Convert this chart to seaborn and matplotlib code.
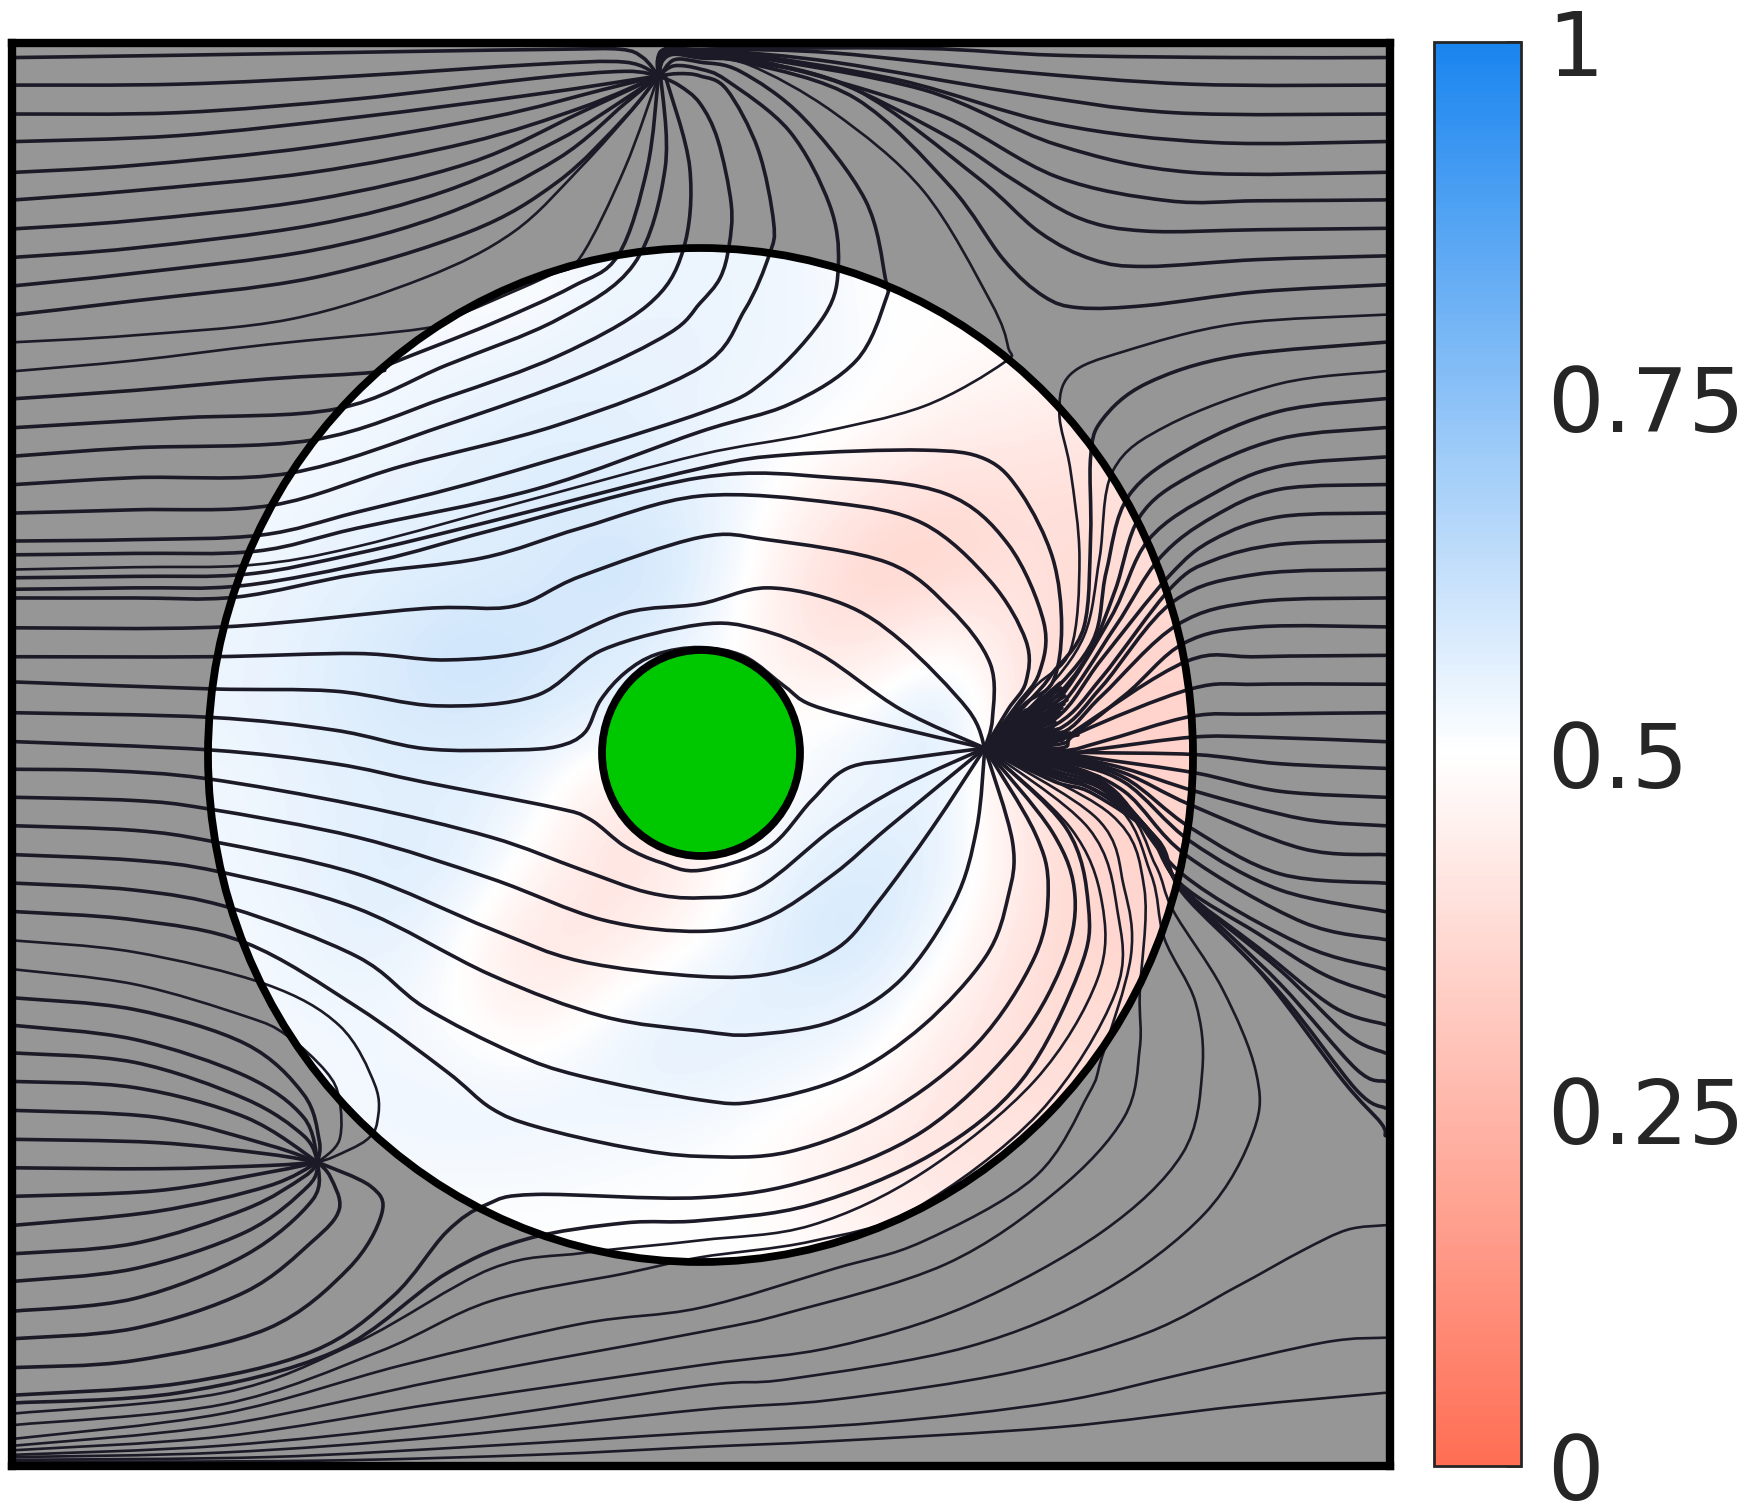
"""Streamlines over a field in a circular region, with a diverging colour bar."""
import numpy as np
import seaborn as sns
from matplotlib import pyplot as plt
from matplotlib.colors import LinearSegmentedColormap
from matplotlib.patches import Ellipse, PathPatch
from matplotlib.path import Path

CBAR_TICKS = [0, 0.25, 0.5, 0.75, 1]
CBAR_TICK_LABELS = ["0", "0.25", "0.5", "0.75", "1"]

FIELD = [
    [.50, .50, .50, .50, .50, .53, .54, .54, .53, .50, .50, .50, .50, .50],
    [.52, .52, .52, .53, .54, .55, .55, .54, .53, .51, .49, .48, .46, .46],
    [.52, .52, .53, .55, .56, .56, .55, .53, .52, .49, .45, .44, .42, .42],
    [.52, .53, .55, .56, .57, .58, .57, .54, .46, .41, .38, .39, .39, .39],
    [.53, .55, .56, .57, .58, .60, .60, .52, .41, .35, .36, .41, .38, .38],
    [.54, .56, .58, .61, .60, .58, .56, .50, .41, .42, .50, .42, .36, .36],
    [.54, .56, .58, .59, .58, .56, .54, .49, .50, .53, .61, .41, .35, .35],
    [.53, .55, .56, .56, .54, .44, .41, .49, .52, .55, .55, .42, .35, .35],
    [.53, .55, .57, .57, .50, .41, .42, .50, .56, .58, .56, .44, .36, .36],
    [.52, .54, .56, .52, .41, .41, .46, .53, .59, .59, .52, .41, .36, .36],
    [.52, .53, .53, .50, .44, .50, .56, .56, .56, .54, .46, .39, .38, .38],
    [.52, .52, .53, .53, .53, .54, .55, .54, .52, .49, .41, .39, .39, .39],
    [.52, .52, .53, .53, .53, .52, .51, .50, .46, .42, .41, .41, .41, .41],
    [.50, .50, .50, .50, .50, .50, .50, .50, .49, .46, .44, .42, .42, .42],
]

# streamlines traced per quadrant, in the units of each quadrant's crop
TOP_LEFT = [
    [(33, 60), (400, 55), (900, 47), (1250, 42), (1390, 42), (1440, 60), (1475, 100)],
    [(33, 120), (400, 118), (800, 100), (1200, 75), (1400, 70), (1475, 100)],
    [(33, 183), (400, 180), (800, 150), (1200, 105), (1400, 90), (1475, 100)],
    [(33, 243), (400, 230), (800, 190), (1200, 140), (1475, 100)],
    [(33, 310), (300, 295), (700, 255), (1100, 190), (1350, 130), (1475, 100)],
    [(33, 370), (300, 350), (700, 310), (1050, 245), (1300, 170), (1475, 100)],
    [(33, 433), (300, 415), (700, 370), (1050, 290), (1300, 180), (1475, 100)],
    [(33, 495), (300, 475), (700, 425), (1000, 350), (1250, 240), (1400, 150), (1475, 100)],
    [(33, 557), (300, 530), (700, 480), (1000, 400), (1250, 280), (1400, 160), (1475, 100)],
    [(33, 620), (300, 590), (700, 540), (1050, 440), (1250, 330), (1400, 190), (1475, 100)],
    [(33, 803), (300, 785), (600, 760), (840, 745), (880, 725), (1100, 640), (1280, 560), (1385, 490), (1450, 300), (1475, 100)],
    [(33, 866), (400, 845), (755, 825), (1000, 730), (1250, 630), (1420, 510), (1490, 300), (1480, 100)],
    [(33, 928), (300, 910), (700, 893), (1000, 800), (1250, 710), (1450, 600), (1530, 480), (1545, 300), (1490, 100)],
    [(33, 990), (300, 975), (650, 965), (1000, 860), (1300, 755), (1500, 660), (1568, 595)],
    [(33, 1052), (300, 1045), (610, 1035), (900, 950), (1250, 860), (1568, 735)],
    [(33, 1113), (300, 1110), (585, 1100), (800, 1050), (1100, 975), (1568, 835)],
    [(33, 1143), (300, 1140), (575, 1135), (800, 1085), (1200, 1000), (1568, 875)],
    [(33, 1193), (300, 1190), (555, 1185), (800, 1140), (1100, 1070), (1568, 955)],
    [(33, 1218), (300, 1215), (545, 1210), (850, 1155), (1100, 1090), (1568, 975)],
    [(33, 1237), (300, 1237), (530, 1235), (800, 1185), (1080, 1150), (1300, 1085), (1568, 1015)],
    [(33, 1302), (500, 1300), (950, 1260), (1150, 1255), (1300, 1190), (1568, 1105)],
    [(33, 1365), (470, 1365), (800, 1358), (1000, 1372), (1200, 1350), (1400, 1270), (1568, 1250)],
    [(33, 1420), (470, 1435), (750, 1440), (980, 1472), (1200, 1450), (1350, 1350), (1568, 1295)],
    [(33, 1487), (470, 1497), (750, 1525), (950, 1565), (1150, 1568), (1250, 1560), (1310, 1530), (1345, 1460), (1400, 1400), (1470, 1360), (1568, 1345)],
    [(33, 1550), (470, 1568)],
    [(1568, 160), (1520, 120), (1475, 100)],
    [(1568, 100), (1520, 95), (1475, 100)],
    [(1568, 85), (1510, 78), (1475, 100)],
    [(1568, 70), (1510, 65), (1478, 100)],
    [(1568, 62), (1510, 54), (1485, 68), (1476, 100)],
    [(1568, 58), (1510, 50), (1484, 64), (1476, 100)],
    [(1568, 56), (1510, 47), (1483, 60), (1476, 100)],
    [(1568, 54), (1510, 44), (1482, 58), (1476, 100)],
    [(1568, 52), (1510, 42), (1480, 55), (1475, 100)],
    [(1568, 50), (1505, 41), (1478, 55), (1475, 100)],
    [(1568, 48), (1500, 41), (1477, 55), (1475, 100)],
    [(1568, 46), (1500, 40), (1476, 58), (1475, 100)],
    [(1568, 44), (1495, 40), (1475, 60), (1475, 100)],
    [(1568, 42), (1490, 42), (1473, 65), (1475, 100)],
]
TOP_LEFT_THIN = [
    [(33, 680), (300, 665), (650, 630), (950, 540), (1150, 440), (1300, 300), (1420, 170), (1475, 100)],
    [(33, 743), (300, 720), (600, 685), (950, 650), (1030, 620), (1230, 535), (1300, 495), (1400, 300), (1475, 100)],
    [(33, 1175), (300, 1170), (565, 1165), (800, 1125), (1200, 1020), (1568, 925)],
]

SINK_TOP = (638, 1564)
TOP_RIGHT = [
    [(0, 595), (45, 540), (65, 470), (70, 380), (40, 240), (0, 160)],
    [(0, 735), (100, 610), (155, 490), (165, 420), (130, 260), (60, 130), (0, 100)],
    [(0, 835), (150, 760), (280, 620), (310, 510), (290, 380), (200, 220), (60, 110), (0, 85)],
    [(0, 875), (200, 815), (350, 720), (415, 590), (415, 540), (370, 370), (230, 190), (90, 90), (0, 70)],
    [(0, 955), (200, 925), (500, 915), (640, 935), (720, 1010), (790, 1150), (810, 1300), (790, 1420), (725, 1470), SINK_TOP],
    [(0, 975), (300, 975), (550, 1010), (690, 1120), (770, 1290), (760, 1400), (710, 1470), SINK_TOP],
    [(0, 1015), (300, 1030), (500, 1075), (650, 1200), (730, 1330), (730, 1420), (690, 1480), SINK_TOP],
    [(0, 1105), (150, 1110), (420, 1160), (560, 1260), (650, 1380), (655, 1500), SINK_TOP],
    [(0, 1250), (150, 1215), (320, 1250), (450, 1330), (600, 1480), SINK_TOP],
    [(0, 1295), (130, 1305), (270, 1360), (450, 1480), SINK_TOP],
    [(0, 1345), (100, 1365), (190, 1430), (250, 1470), (400, 1510), SINK_TOP],
    [(1535, 60), (1200, 60), (800, 55), (500, 40), (110, 40), (0, 42)],
    [(1535, 120), (1100, 118), (700, 90), (300, 50), (60, 42), (0, 44)],
    [(1535, 183), (1060, 180), (700, 135), (300, 70), (60, 46), (0, 46)],
    [(1535, 243), (1150, 245), (800, 205), (450, 110), (100, 52), (0, 48)],
    [(1535, 310), (1100, 310), (800, 250), (500, 130), (100, 56), (0, 50)],
    [(1535, 370), (1250, 372), (1050, 372), (800, 320), (550, 190), (300, 110), (100, 60), (0, 52)],
    [(1535, 432), (1250, 435), (1000, 438), (850, 410), (700, 325), (550, 230), (300, 110), (100, 64), (0, 54)],
    [(1535, 492), (1250, 500), (1000, 515), (880, 500), (760, 440), (620, 320), (350, 130), (110, 68), (0, 56)],
    [(1535, 555), (1250, 570), (1000, 600), (850, 605), (770, 580), (680, 500), (560, 340), (350, 150), (110, 72), (0, 58)],
    [(1535, 680), (1200, 710), (1000, 770), (900, 850), (875, 930), (875, 1100), (860, 1300), (790, 1400), (756, 1442), SINK_TOP],
    [(1535, 803), (1300, 830), (1100, 910), (960, 1015), (910, 1180), (880, 1330), (772, 1459), SINK_TOP],
    [(1535, 866), (1300, 890), (1100, 970), (985, 1060), (930, 1220), (870, 1360), (779, 1469), SINK_TOP],
    [(1535, 930), (1300, 950), (1150, 1010), (1005, 1110), (920, 1280), (785, 1479), SINK_TOP],
    [(1535, 990), (1300, 1000), (1150, 1060), (1030, 1150), (930, 1300), (791, 1489), SINK_TOP],
    [(1535, 1052), (1300, 1060), (1150, 1110), (1050, 1190), (900, 1370), (796, 1500), SINK_TOP],
    [(1535, 1113), (1300, 1120), (1150, 1155), (1055, 1215), (900, 1410), (800, 1511), SINK_TOP],
    [(1535, 1175), (1250, 1185), (1060, 1245), (900, 1430), (803, 1523), SINK_TOP],
    [(1535, 1237), (1250, 1245), (1070, 1295), (900, 1450), (805, 1534), SINK_TOP],
    [(1535, 1300), (1250, 1300), (1085, 1335), (950, 1450), (807, 1546), SINK_TOP],
    [(1535, 1362), (1250, 1365), (1090, 1375), (850, 1520), (808, 1555), SINK_TOP],
    [(1535, 1425), (1250, 1425), (1100, 1435), (850, 1530), (808, 1564), SINK_TOP],
    [(1535, 1487), (1250, 1490), (1100, 1495), (900, 1550), (808, 1570), SINK_TOP],
    [(1535, 1550), (1250, 1540), (1105, 1540), (900, 1565), (808, 1576), SINK_TOP],
]
TOP_RIGHT_THIN = [
    [(0, 925), (250, 880), (500, 820), (680, 725), (690, 690), (650, 590), (500, 350), (300, 180), (110, 76), (0, 62)],
    [(1535, 620), (1200, 640), (950, 700), (830, 750), (805, 835), (830, 960), (850, 1150), (830, 1350), (747, 1434), SINK_TOP],
    [(1535, 743), (1300, 770), (1050, 860), (925, 960), (895, 1150), (860, 1320), (764, 1450), SINK_TOP],
]

SINK_LEFT = (712, 898)
BOTTOM_LEFT = [
    [(470, 0), (750, 30), (950, 70), (1240, 125), (1320, 150), (1400, 210), (1480, 245), (1568, 262)],
    [(33, 42), (240, 45), (460, 62), (800, 120), (1100, 190), (1300, 260), (1450, 310), (1568, 322)],
    [(33, 103), (300, 110), (465, 128), (800, 190), (1100, 280), (1350, 370), (1568, 395)],
    [(33, 165), (300, 175), (480, 200), (800, 270), (1100, 390), (1300, 460), (1568, 493)],
    [(33, 228), (300, 240), (490, 265), (800, 345), (1100, 490), (1350, 580), (1568, 612)],
    [(33, 290), (300, 305), (520, 345), (800, 450), (950, 560), (1150, 660), (1300, 710), (1568, 762)],
    [(33, 352), (300, 370), (550, 420), (800, 560), (1000, 700), (1100, 780), (1200, 820), (1400, 865), (1568, 885)],
    [(33, 540), (300, 565), (550, 640), (680, 750), (715, 850), SINK_LEFT],
    [(33, 600), (300, 630), (550, 710), (680, 800), SINK_LEFT],
    [(33, 660), (300, 680), (550, 760), (680, 840), SINK_LEFT],
    [(33, 722), (300, 735), (550, 800), SINK_LEFT],
    [(33, 785), (350, 800), (600, 860), SINK_LEFT],
    [(33, 848), (350, 855), (600, 880), SINK_LEFT],
    [(33, 910), (350, 912), (600, 905), SINK_LEFT],
    [(33, 972), (350, 960), (600, 920), SINK_LEFT],
    [(33, 1035), (350, 1005), (600, 950), SINK_LEFT],
    [(33, 1097), (300, 1075), (550, 1000), (680, 930), SINK_LEFT],
    [(33, 1157), (300, 1130), (550, 1050), (690, 950), SINK_LEFT],
    [(33, 1222), (300, 1195), (550, 1100), (700, 980), SINK_LEFT],
    [(33, 1282), (300, 1260), (550, 1180), (700, 1070), (760, 1000), (740, 930), SINK_LEFT],
    [(33, 1345), (300, 1330), (600, 1260), (780, 1130), (855, 1010), (830, 950), SINK_LEFT],
    [(33, 1405), (400, 1380), (700, 1310), (880, 1190), (1000, 1050), (1090, 990), (1200, 968), (1568, 975)],
    [(33, 1422), (400, 1400), (750, 1310), (1000, 1140), (1180, 1065), (1400, 1030), (1568, 1025)],
    [(33, 1500), (500, 1445), (900, 1340), (1300, 1250), (1568, 1215)],
    [(33, 1515), (500, 1470), (1000, 1370), (1568, 1268)],
    [(33, 1525), (500, 1495), (1000, 1420), (1568, 1340)],
    [(33, 1535), (500, 1515), (1000, 1465), (1568, 1385)],
    [(33, 1540), (500, 1530), (1000, 1495), (1568, 1437)],
    [(33, 1546), (600, 1540), (1100, 1515), (1568, 1487)],
    [(33, 1550), (700, 1548), (1200, 1535), (1568, 1518)],
]
BOTTOM_LEFT_THIN = [
    [(33, 415), (300, 440), (595, 510), (760, 600), (840, 730), (845, 810), (820, 850), (750, 885), SINK_LEFT],
    [(33, 478), (300, 510), (550, 580), (640, 620), (730, 700), (760, 760), (760, 850), SINK_LEFT],
    [(33, 1445), (500, 1400), (800, 1290), (1100, 1130), (1310, 1095), (1568, 1068)],
    [(33, 1470), (500, 1425), (850, 1310), (1100, 1200), (1400, 1140), (1568, 1105)],
]

SINK_RIGHT = (638, -4)
BOTTOM_RIGHT = [
    [(0, 262), (150, 215), (250, 110), (330, 40), (450, 20), SINK_RIGHT],
    [(0, 322), (130, 300), (300, 170), (450, 80), SINK_RIGHT],
    [(0, 395), (150, 365), (300, 270), (420, 170), SINK_RIGHT],
    [(0, 493), (170, 485), (310, 430), (400, 330), (520, 170), SINK_RIGHT],
    [(0, 612), (120, 620), (300, 590), (450, 500), (570, 330), (620, 170), SINK_RIGHT],
    [(0, 762), (130, 765), (330, 710), (500, 600), (640, 450), (690, 320), (700, 200), SINK_RIGHT],
    [(0, 885), (200, 875), (420, 790), (620, 640), (750, 450), (780, 300), (750, 180), SINK_RIGHT],
    [(0, 975), (250, 935), (500, 830), (700, 650), (810, 470), (840, 320), (790, 180), SINK_RIGHT],
    [(0, 1025), (250, 990), (520, 880), (720, 720), (850, 480), (870, 340), (820, 170), SINK_RIGHT],
    [(0, 1068), (250, 1035), (500, 920), (750, 720), (890, 500), (900, 330), (830, 170), SINK_RIGHT],
    [(0, 1105), (250, 1070), (480, 1000), (760, 790), (930, 530), (935, 350), (870, 170), SINK_RIGHT],
    [(1535, 40), (1300, 30), (1110, 10), (850, 5), SINK_RIGHT],
    [(1535, 103), (1300, 90), (1110, 50), (900, 20), (810, 8), SINK_RIGHT],
    [(1535, 165), (1350, 150), (1110, 90), (950, 40), (810, 12), SINK_RIGHT],
    [(1535, 228), (1350, 215), (1100, 120), (950, 50), (808, 16), SINK_RIGHT],
    [(1535, 290), (1300, 270), (1100, 170), (950, 60), (806, 20), SINK_RIGHT],
    [(1535, 352), (1300, 305), (1100, 200), (950, 70), (805, 24), SINK_RIGHT],
    [(1535, 413), (1350, 375), (1090, 230), (950, 90), (805, 28), SINK_RIGHT],
    [(1535, 477), (1350, 425), (1080, 270), (930, 90), (803, 32), SINK_RIGHT],
    [(1535, 537), (1400, 490), (1250, 400), (1075, 290), (1000, 170), (900, 70), (802, 36), SINK_RIGHT],
    [(1535, 598), (1420, 560), (1250, 430), (1080, 300), (1005, 175), (900, 75), (802, 40), SINK_RIGHT],
    [(1535, 660), (1450, 620), (1300, 480), (1080, 300), (1010, 180), (900, 80), (800, 47), SINK_RIGHT],
    [(1535, 722), (1470, 695), (1300, 510), (1080, 300), (1015, 185), (900, 85), (798, 54), SINK_RIGHT],
    [(1535, 780), (1470, 740), (1300, 530), (1080, 305), (1020, 190), (890, 90), (795, 60), SINK_RIGHT],
    [(1535, 840), (1525, 812), (1440, 720), (1260, 490), (1080, 310), (1025, 195), (880, 95), (792, 68), SINK_RIGHT],
]
BOTTOM_RIGHT_THIN = [
    [(0, 1212), (300, 1130), (500, 1070), (750, 930), (870, 750), (900, 670), (965, 450), (950, 300), (890, 150), SINK_RIGHT],
    [(0, 1268), (200, 1225), (550, 1120), (800, 960), (950, 800), (985, 650), (985, 530), (995, 300), (920, 140), SINK_RIGHT],
    [(0, 1340), (300, 1300), (600, 1210), (900, 1050), (1080, 880), (1125, 700), (1110, 550), (1040, 410), (1010, 270), (920, 110), SINK_RIGHT],
    [(0, 1385), (200, 1370), (600, 1300), (900, 1180), (1130, 1010), (1240, 830), (1245, 700), (1170, 520), (1060, 350), (1020, 250), (930, 110), SINK_RIGHT],
    [(1535, 1035), (1450, 1045), (1350, 1090), (1200, 1170), (1000, 1270), (700, 1355), (300, 1415), (0, 1437)],
    [(1535, 1280), (1400, 1290), (1100, 1355), (800, 1420), (400, 1465), (0, 1487)],
    [(1535, 1400), (1200, 1430), (800, 1475), (300, 1505), (0, 1518)],
]

# where the bunched lines fill in solid right next to the sink, in image pixels
SINK_PX = (985, 748)
SINK_FAN = [
    (1005, 722), (1009, 719), (1013, 717), (1018, 714), (1022, 712), (1026, 710), (1030, 708), (1034, 706),
    (1038, 705), (1042, 704), (1047, 703), (1050, 699), (1053, 695), (1057, 689), (1060, 683), (1061, 688),
    (1063, 692), (1065, 696), (1067, 700), (1064, 704), (1062, 708), (1060, 712), (1057, 717), (1055, 722),
    (1053, 727), (1058, 729), (1063, 732), (1070, 733), (1078, 735), (1070, 737), (1063, 740), (1057, 744),
    (1050, 748), (1058, 750), (1067, 753), (1075, 755), (1083, 758), (1090, 762), (1097, 767), (1100, 777),
    (1091, 774), (1083, 772), (1075, 770), (1067, 768), (1058, 766), (1050, 765), (1042, 763), (1033, 762),
    (1025, 762), (1017, 762),
]

LINE_COLOR = "#1c1a26"
W, H = 1747, 1508


def rect(left, top, right, bottom):
    return [left / W, 1 - bottom / H, (right - left) / W, (bottom - top) / H]


def to_px(lines, origin):
    return [[(x / 2.24 + origin[0], y / 2.178 + origin[1]) for x, y in line] for line in lines]


def on_seam(p):
    return abs(p[0] - 700) < 1 or abs(p[1] - 750) < 1


def nearest_end(p, pool):
    # closest fragment end in the pool, so a line carries on across a seam
    best = None
    for i, frag in enumerate(pool):
        for at_start in (True, False):
            q = frag[0] if at_start else frag[-1]
            d = np.hypot(p[0] - q[0], p[1] - q[1])
            if on_seam(q) and d < 6 and (best is None or d < best[0]):
                best = (d, i, at_start)
    return best


def join_seams(pool):
    pool = list(pool)
    joined = []
    while pool:
        line = pool.pop(0)
        for _ in range(2):
            while on_seam(line[-1]):
                hit = nearest_end(line[-1], pool)
                if hit is None:
                    break
                frag = pool.pop(hit[1])
                line = line + (frag[1:] if hit[2] else frag[::-1][1:])
            line = line[::-1]
        joined.append(line)
    return joined


def curve(points):
    # Catmull-Rom through the traced points, written as cubic path segments
    pts = np.asarray(points, dtype=float)
    verts = [pts[0]]
    codes = [Path.MOVETO]
    for i in range(len(pts) - 1):
        prev = pts[max(i - 1, 0)]
        nxt = pts[min(i + 2, len(pts) - 1)]
        verts += [
            pts[i] + (pts[i + 1] - prev) / 6,
            pts[i + 1] - (nxt - pts[i]) / 6,
            pts[i + 1],
        ]
        codes += [Path.CURVE4] * 3
    return Path(verts, codes)


def draw_line(ax, line, width):
    ax.add_patch(PathPatch(curve(line), fc="none", ec=LINE_COLOR, lw=width, capstyle="round", zorder=2))


sns.set_theme(style="white")
fig = plt.figure(figsize=(W / 100, H / 100), dpi=100)

back_ax = fig.add_axes(rect(12, 43, 1390, 1466), zorder=0)
back_ax.set_xticks([])
back_ax.set_yticks([])
back_ax.set_facecolor("#969696")

heat_ax = fig.add_axes(rect(208, 248, 1193, 1262), zorder=1)
cax = fig.add_axes(rect(1434, 42, 1521, 1466))
cmap = LinearSegmentedColormap.from_list("field", ["#ff6e54", "#ffffff", "#1a85ef"])
sns.heatmap(
    np.array(FIELD),
    cmap=cmap,
    vmin=0,
    vmax=1,
    xticklabels=False,
    yticklabels=False,
    ax=heat_ax,
    cbar_ax=cax,
)
heat_ax.patch.set_visible(False)
mesh = heat_ax.collections[0]
n_rows, n_cols = np.shape(FIELD)
disc = Ellipse((0.5, 0.5), 1, 1, transform=heat_ax.transAxes)
mesh.set_clip_path(disc)
smooth = heat_ax.imshow(
    FIELD,
    cmap=cmap,
    vmin=0,
    vmax=1,
    extent=(0, n_cols, n_rows, 0),
    interpolation="bicubic",
    aspect="auto",
    zorder=mesh.get_zorder() + 1,
)
smooth.set_clip_path(disc)
heat_ax.set_position(rect(208, 248, 1193, 1262))

ax = fig.add_axes(rect(12, 43, 1390, 1466), facecolor="none", zorder=2)
ax.set_xlim(12, 1390)
ax.set_ylim(1466, 43)
ax.set_xticks([])
ax.set_yticks([])
for spine in ax.spines.values():
    spine.set_linewidth(6)
    spine.set_color("black")

thick = to_px(TOP_LEFT, (0, 30)) + to_px(TOP_RIGHT, (700, 30)) + to_px(BOTTOM_LEFT, (0, 750)) + to_px(BOTTOM_RIGHT, (700, 750))
thin = to_px(TOP_LEFT_THIN, (0, 30)) + to_px(TOP_RIGHT_THIN, (700, 30)) + to_px(BOTTOM_LEFT_THIN, (0, 750)) + to_px(BOTTOM_RIGHT_THIN, (700, 750))
thin_points = {p for line in thin for p in line}
for line in join_seams(thick + thin):
    # sink points are shared, so one matching point does not make a line thin
    draw_line(ax, line, 1.9 if len(thin_points.intersection(line)) > 2 else 2.6)
for end in SINK_FAN:
    draw_line(ax, [SINK_PX, end], 2.6)

ax.add_patch(Ellipse((700.5, 755), 985, 1014, fc="none", ec="black", lw=5.6, zorder=3))
ax.add_patch(Ellipse((701, 753), 198, 206, fc="#00c800", ec="black", lw=5.6, zorder=3))

cbar = mesh.colorbar
cbar.set_ticks(CBAR_TICKS)
cbar.set_ticklabels(CBAR_TICK_LABELS)
cbar.outline.set_edgecolor("#262626")
cbar.outline.set_linewidth(2)
cax.tick_params(direction="in", length=11, width=2, color="#262626", labelsize=64, pad=19, labelcolor="#262626", right=True)

fig.savefig("out.png", dpi=100)
